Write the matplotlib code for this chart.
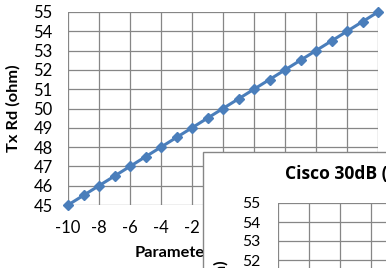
import matplotlib
matplotlib.use("Agg")
import matplotlib.pyplot as plt
from matplotlib.patches import Rectangle

# Data
param = [-10, -9, -8, -7, -6, -5, -4, -3, -2, -1, 0, 1, 2, 3, 4, 5, 6, 7, 8, 9, 10]
tx_rd = [45, 45.5, 46, 46.5, 47, 47.5, 48, 48.5, 49, 49.5, 50, 50.5, 51, 51.5, 52, 52.5, 53, 53.5, 54, 54.5, 55]
x_ticks = [-10, -8, -6, -4, -2, 0, 2, 4, 6, 8, 10]
y_ticks = [45, 46, 47, 48, 49, 50, 51, 52, 53, 54, 55]
main_ylabel = "Tx Rd (ohm)"
main_xlabel = "Parameter"
inset_title = "Cisco 30dB (ohm)"

plt.rcParams['font.family'] = ['Lato', 'DejaVu Sans']
plt.rcParams['axes.unicode_minus'] = False

W, H = 386, 268
fig = plt.figure(figsize=(W / 100, H / 100), dpi=100)
fig.patch.set_facecolor('white')

def fx(px):
    return px / W

def fy(py):
    return 1 - py / H

grid_c = '#868686'
line_c = '#4A7EBB'
tick_fs = 12
label_fs = 11.8

# Main chart
ax = fig.add_axes([fx(68), fy(205), fx(378) - fx(68), fy(12) - fy(205)])
ax.plot(param, tx_rd, color=line_c, lw=2.2, marker='D', ms=5.5, mfc=line_c, mec=line_c, clip_on=False, zorder=3)
ax.set_xlim(-10, 10)
ax.set_ylim(45, 55)
ax.set_xticks(x_ticks)
ax.set_yticks(y_ticks)
ax.grid(True, color=grid_c, lw=0.9)
for s in ax.spines.values():
    s.set_visible(False)
ax.tick_params(length=0, labelsize=tick_fs, colors='#000000')
ax.tick_params(axis='x', pad=11)
ax.tick_params(axis='y', pad=11)
ax.set_ylabel(main_ylabel, fontsize=label_fs, fontweight='bold')
ax.yaxis.set_label_coords((21 - 68) / 310, 0.5)
ax.set_axisbelow(True)
# x tick labels right of -2 lie under the overlapping chart
for val, lab in zip(x_ticks, ax.get_xticklabels()):
    if val > -2:
        lab.set_visible(False)
fig.text(fx(135), fy(253), main_xlabel, fontsize=label_fs, fontweight='bold',
         ha='left', va='center')

# Overlapping second chart (chart area)
rect = Rectangle((fx(203), fy(268) - 0.05), 1.0, fy(152) - fy(268) + 0.05,
                 transform=fig.transFigure, facecolor='white', edgecolor=grid_c,
                 lw=1.0, zorder=10)
fig.add_artist(rect)

ax2 = fig.add_axes([fx(278), fy(203 + 190), fx(588) - fx(278), fy(203) - fy(393)], zorder=11)
ax2.plot(param, tx_rd, color=line_c, lw=2.2, marker='D', ms=5.5)
ax2.set_xlim(-10, 10)
ax2.set_ylim(45, 55)
ax2.set_xticks(x_ticks)
ax2.set_yticks(y_ticks)
ax2.grid(True, color=grid_c, lw=0.9)
for s in ax2.spines.values():
    s.set_visible(False)
ax2.tick_params(length=0, labelsize=11.3, colors='#000000', pad=13)
ax2.tick_params(axis='x', labelbottom=False)
ax2.set_ylabel(main_ylabel, fontsize=label_fs, fontweight='bold')
ax2.yaxis.set_label_coords((229 - 278) / 310, 0.47)
ax2.set_axisbelow(True)
fig.text(fx(285), fy(174), inset_title, fontsize=12.6, fontweight='bold',
         family=['Open Sans', 'DejaVu Sans'], ha='left', va='center', zorder=12)

fig.savefig('out.png', dpi=100)
